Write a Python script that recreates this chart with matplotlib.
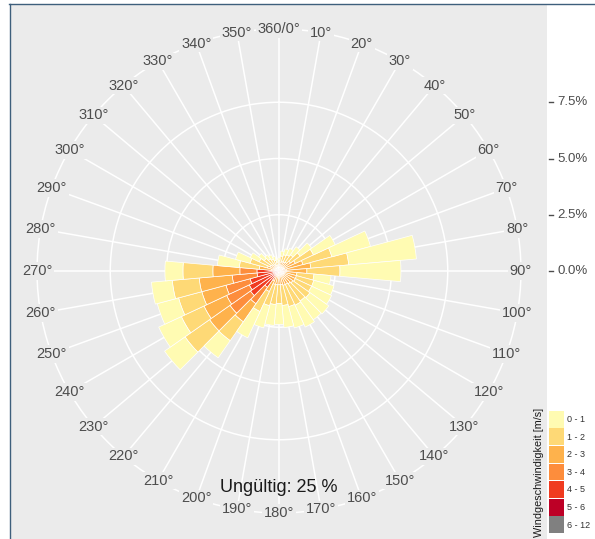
import numpy as np
import matplotlib
matplotlib.use('Agg')
import matplotlib.pyplot as plt
from matplotlib.patches import Rectangle
from matplotlib.lines import Line2D

plt.rcParams['font.family'] = ['Liberation Sans', 'DejaVu Sans']

##############################################################################
# DATA (frequency in % per 10 deg sector)
directions = np.arange(0, 360, 10)

speed_classes = ['0 - 1', '1 - 2', '2 - 3', '3 - 4', '4 - 5', '5 - 6', '6 - 12']
class_colors = ['#FFFBB2', '#FED976', '#FEB24C', '#FD8D3C', '#F03B20', '#BD0026', '#808080']

freq_0_1 = [0.13, 0.22, 0.27, 0.31, 0.44, 0.62, 1.07, 1.78, 3.02, 2.71, 0.76, 0.93,
            0.98, 1.02, 1.02, 1.07, 0.98, 0.98, 0.93, 0.93, 1.02, 1.29, 0.93, 1.11,
            1.11, 0.98, 0.93, 0.80, 0.98, 0.67, 0.44, 0.31, 0.22, 0.22, 0.18, 0.13]
freq_1_2 = [0.18, 0.27, 0.31, 0.36, 0.40, 0.53, 0.89, 1.33, 1.69, 1.47, 0.76, 0.80,
            0.80, 0.93, 0.93, 1.02, 0.98, 0.93, 0.84, 0.89, 0.98, 0.98, 1.02, 1.33,
            1.11, 1.07, 1.20, 1.33, 0.89, 0.80, 0.53, 0.40, 0.31, 0.27, 0.22, 0.18]
freq_2_3 = [0.18, 0.27, 0.27, 0.27, 0.31, 0.40, 0.58, 0.84, 1.07, 0.93, 0.58, 0.58,
            0.58, 0.53, 0.53, 0.49, 0.49, 0.44, 0.44, 0.44, 0.40, 0.53, 0.98, 1.11,
            1.11, 1.11, 1.47, 1.20, 0.53, 0.36, 0.27, 0.27, 0.22, 0.22, 0.18, 0.13]
freq_3_4 = [0.07, 0.11, 0.13, 0.13, 0.13, 0.18, 0.18, 0.22, 0.31, 0.27, 0.18, 0.18,
            0.18, 0.18, 0.13, 0.13, 0.13, 0.13, 0.13, 0.13, 0.16, 0.31, 0.89, 1.11,
            1.11, 1.11, 1.11, 0.76, 0.27, 0.13, 0.13, 0.09, 0.11, 0.07, 0.07, 0.07]
freq_4_5 = [0.02, 0.02, 0.04, 0.04, 0.04, 0.04, 0.04, 0.04, 0.04, 0.04, 0.04, 0.04,
            0.04, 0.04, 0.04, 0.04, 0.04, 0.04, 0.04, 0.04, 0.04, 0.13, 0.76, 1.38,
            1.29, 1.16, 0.76, 0.76, 0.04, 0.02, 0.04, 0.04, 0.02, 0.02, 0.02, 0.02]
freq_5_6 = [0, 0, 0, 0, 0, 0, 0, 0, 0, 0, 0, 0,
            0, 0, 0, 0, 0, 0, 0, 0, 0.02, 0.02, 0.09, 0.13,
            0.13, 0.13, 0.18, 0.18, 0.02, 0.02, 0, 0, 0, 0, 0, 0]
freq_6_12 = [0, 0, 0, 0, 0, 0, 0, 0, 0, 0, 0, 0,
             0, 0, 0, 0, 0, 0, 0, 0, 0, 0.02, 0.04, 0.04,
             0.04, 0.04, 0.04, 0.04, 0.02, 0, 0, 0, 0, 0, 0, 0]

radial_ticks = [0.0, 2.5, 5.0, 7.5]
invalid_text = 'Ungültig: 25 %'
legend_title = 'Windgeschwindigkeit [m/s]'

##############################################################################
# LAYOUT (pixel geometry of the figure)
W, H = 595, 539
cx, cy = 279, 271          # centre of the rose in px (from top)
r_out_px = 242             # outer circle radius in px
px_per_pct = 22.5          # radial scale
r_max = r_out_px / px_per_pct

panel_gray = '#EBEBEB'
text_gray = '#4D4D4D'

def fx(x):
    return x / W

def fy(y):
    return 1 - y / H

fig = plt.figure(figsize=(W / 100, H / 100), dpi=100)
fig.patch.set_facecolor('white')

# gray panel
fig.patches.append(Rectangle((fx(11), 0), fx(547) - fx(11), fy(5), transform=fig.transFigure,
                             facecolor=panel_gray, edgecolor='none', zorder=-10))
# frame lines of the screenshot
fig.lines.append(Line2D([fx(9), 1], [fy(4), fy(4)], transform=fig.transFigure,
                        color='#3E5F7C', lw=1.0))
fig.lines.append(Line2D([fx(10), fx(10)], [0, fy(4)], transform=fig.transFigure,
                        color='#3E5F7C', lw=1.0))

ax = fig.add_axes([fx(cx - r_out_px), fy(cy + r_out_px), 2 * r_out_px / W, 2 * r_out_px / H],
                  projection='polar')
ax.patch.set_alpha(0)
ax.set_theta_zero_location('N')
ax.set_theta_direction(-1)
ax.set_ylim(0, r_max)
ax.set_yticks(radial_ticks[1:])
ax.set_yticklabels([])
ax.set_xticks(np.deg2rad(directions))
ax.set_xticklabels([])
ax.tick_params(length=0)
ax.grid(True, color='white', lw=1.1)
ax.spines['polar'].set_color('white')
ax.spines['polar'].set_linewidth(1.1)
ax.set_axisbelow(True)

# stacked bars, highest speed innermost
theta = np.deg2rad(directions)
width = np.deg2rad(10)
series = [freq_0_1, freq_1_2, freq_2_3, freq_3_4, freq_4_5, freq_5_6, freq_6_12]
bottom = np.zeros(len(directions))
for vals, col in zip(series[::-1], class_colors[::-1]):
    vals = np.array(vals)
    ax.bar(theta, vals, width=width, bottom=bottom, color=col,
           edgecolor='white', linewidth=0.5, zorder=3)
    bottom = bottom + vals

# angle labels sitting on the outer circle
for d in directions:
    lab = '360/0°' if d == 0 else '%d°' % d
    ax.text(np.deg2rad(d), r_max, lab, ha='center', va='center', fontsize=10.5,
            color=text_gray, zorder=5, clip_on=False,
            bbox=dict(boxstyle='square,pad=0.12', facecolor=panel_gray, edgecolor='none'))

# radial scale on the right
for t in radial_ticks:
    ypx = cy - t * px_per_pct
    fig.lines.append(Line2D([fx(549), fx(553)], [fy(ypx), fy(ypx)], transform=fig.transFigure,
                            color=text_gray, lw=1.0))
    fig.text(fx(557), fy(ypx), '%.1f%%' % t, ha='left', va='center', fontsize=9.5,
             color=text_gray)

# invalid share
fig.text(fx(cx), fy(488), invalid_text, ha='center', va='center', fontsize=13, color='#1A1A1A')

# legend
box_top = 410.7
pitch = 17.6
for i, (lab, col) in enumerate(zip(speed_classes, class_colors)):
    y0 = box_top + i * pitch
    fig.patches.append(Rectangle((fx(549.3), fy(y0 + pitch - 0.8)), fx(564.3) - fx(549.3),
                                 (pitch - 0.8) / H, transform=fig.transFigure,
                                 facecolor=col, edgecolor='none'))
    fig.text(fx(567), fy(y0 + pitch / 2), lab, ha='left', va='center', fontsize=6.5,
             color='#333333')
fig.text(fx(539), fy(472), legend_title, rotation=90, ha='center', va='center',
         fontsize=7.8, color='#1A1A1A')

plt.savefig('out.png', dpi=100)
plt.close()
